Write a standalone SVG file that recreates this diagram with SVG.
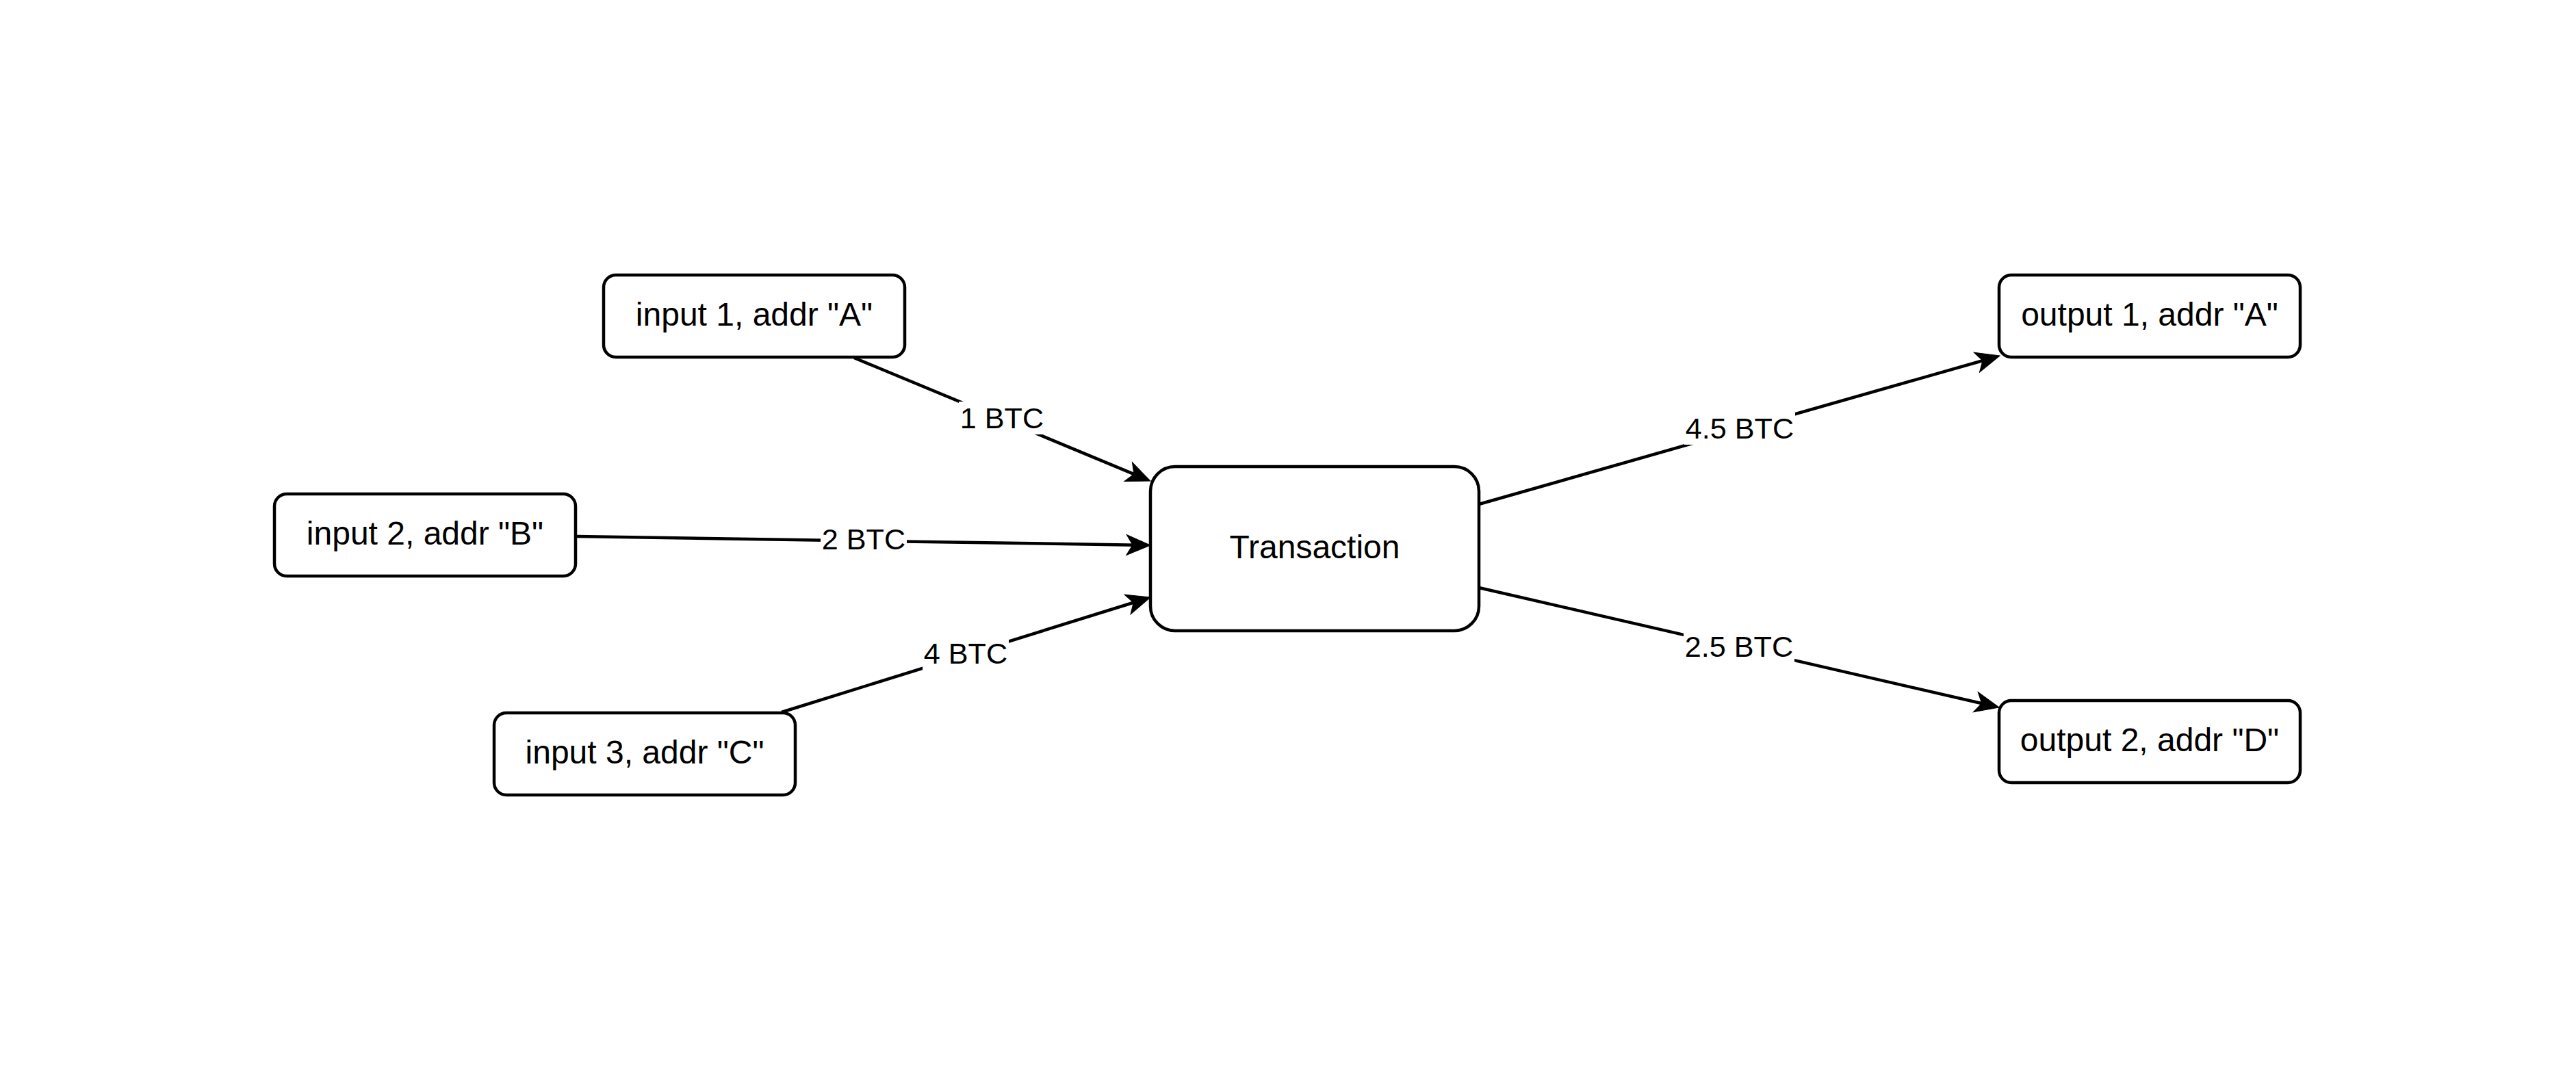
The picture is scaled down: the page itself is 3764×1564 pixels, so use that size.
<svg xmlns="http://www.w3.org/2000/svg" width="3764" height="1564" viewBox="0 0 3764 1564">
<style>
.node{fill:#fff;stroke:#000;stroke-width:4.5}
.nt{font-family:"Liberation Sans",Arial,sans-serif;font-size:48px;fill:#000;text-anchor:middle}
.edge{fill:none;stroke:#000;stroke-width:4.5}
.lbg{fill:#fff}
.lt{font-family:"Liberation Sans",Arial,sans-serif;font-size:43.2px;fill:#000;text-anchor:middle}
</style>
<defs>
<marker id="arr" markerUnits="userSpaceOnUse" markerWidth="60" markerHeight="60" refX="0" refY="0" orient="auto" overflow="visible" viewBox="-30 -30 60 60">
<path d="M20,0 L-15,-15 L-6,0 L-15,15 Z" fill="#000" stroke="#000" stroke-width="1"/>
</marker>
</defs>
<rect width="3764" height="1564" fill="#fff"/>
<g id="connectors">
<line class="edge" x1="1248" y1="523" x2="1662.5" y2="695.3" marker-end="url(#arr)"/>
<line class="edge" x1="843" y1="784" x2="1661" y2="796.7" marker-end="url(#arr)"/>
<line class="edge" x1="1142" y1="1041" x2="1661.9" y2="879" marker-end="url(#arr)"/>
<line class="edge" x1="2161" y1="737" x2="2902.8" y2="525.5" marker-end="url(#arr)"/>
<line class="edge" x1="2161" y1="859" x2="2901.5" y2="1029.5" marker-end="url(#arr)"/>
<g id="labels">
<rect class="lbg" x="1401" y="587" width="126" height="48"/>
<text class="lt" x="1464" y="626">1 BTC</text>
<rect class="lbg" x="1199" y="764" width="126" height="48"/>
<text class="lt" x="1262" y="803">2 BTC</text>
<rect class="lbg" x="1348" y="931" width="126" height="48"/>
<text class="lt" x="1411" y="970">4 BTC</text>
<rect class="lbg" x="2461" y="602" width="162" height="48"/>
<text class="lt" x="2542" y="641">4.5 BTC</text>
<rect class="lbg" x="2460" y="921" width="162" height="48"/>
<text class="lt" x="2541" y="960">2.5 BTC</text>
</g>
</g>
<g id="input1">
<rect class="node" x="882" y="402" width="440" height="120" rx="18"/>
<text class="nt" x="1102" y="476">input 1, addr "A"</text>
</g>
<g id="input2">
<rect class="node" x="401" y="722" width="440" height="120" rx="18"/>
<text class="nt" x="621" y="796">input 2, addr "B"</text>
</g>
<g id="input3">
<rect class="node" x="722" y="1042" width="440" height="120" rx="18"/>
<text class="nt" x="942" y="1116">input 3, addr "C"</text>
</g>
<g id="transaction">
<rect class="node" x="1681" y="682" width="480" height="240" rx="36"/>
<text class="nt" x="1921" y="816">Transaction</text>
</g>
<g id="output1">
<rect class="node" x="2921" y="402" width="440" height="120" rx="18"/>
<text class="nt" x="3141" y="476">output 1, addr "A"</text>
</g>
<g id="output2">
<rect class="node" x="2921" y="1024" width="440" height="120" rx="18"/>
<text class="nt" x="3141" y="1098">output 2, addr "D"</text>
</g>
</svg>
